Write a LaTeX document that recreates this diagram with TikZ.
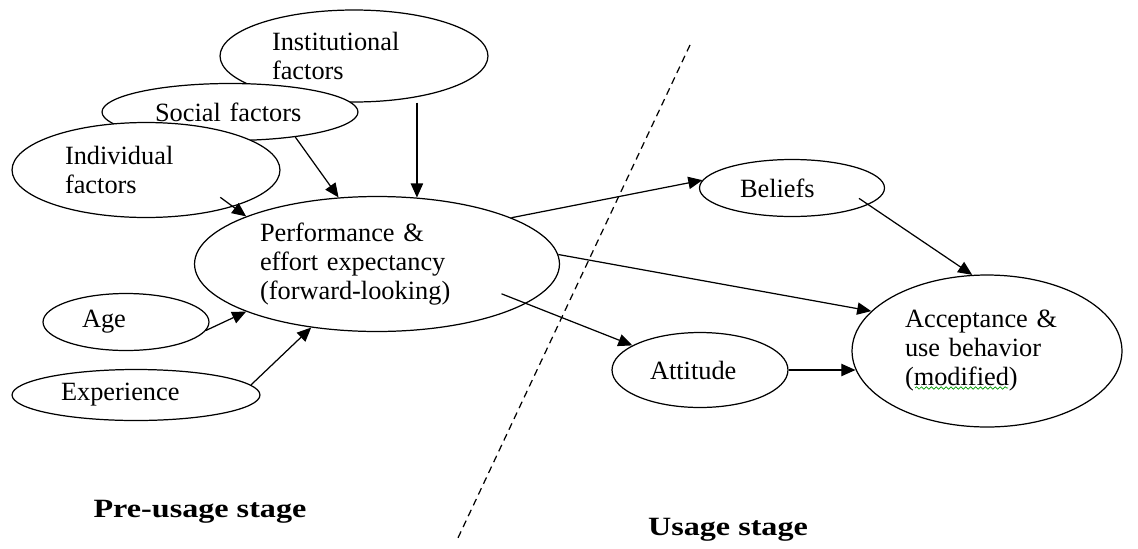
\documentclass[tikz,border=0pt]{standalone}
\usepackage{fontspec}
\setmainfont{Liberation Serif}
\newfontfamily\stagefont[FakeStretch=1.22]{Liberation Serif}
\usetikzlibrary{shapes.geometric,arrows.meta,decorations.pathmorphing}

\begin{document}
\begin{tikzpicture}[x=0.02cm, y=-0.02cm,
  factor/.style={ellipse, draw, fill=white, line width=0.7pt, inner sep=0pt,
    align=left, font=\fontsize{15}{16.5}\selectfont},
  link/.style={-{Triangle[length=8pt,width=7pt]}, line width=0.7pt},
  stagelabel/.style={font=\stagefont\bfseries\fontsize{15}{18}\selectfont,
    inner sep=0pt, anchor=base}]
  \useasboundingbox (0,0) rectangle (1138,548);

  % Define node positions
  \node[factor, minimum width=5.36cm, minimum height=1.84cm, text width=3.28cm] (inst) at (354,56) {Institutional\\factors};
  \node[factor, minimum width=5.12cm, minimum height=1.14cm, text width=3.0cm] (soc) at (230,112) {Social factors};
  \node[factor, minimum width=5.36cm, minimum height=1.9cm, text width=3.24cm] (ind) at (146,170) {Individual\\factors};
  \node[factor, minimum width=7.3cm, minimum height=2.7cm, text width=4.68cm] (perf) at (377,264) {Performance \&\\effort expectancy\\(forward-looking)};
  \node[factor, minimum width=3.32cm, minimum height=1.14cm, text width=1.76cm] (age) at (126,322) {Age};
  \node[factor, minimum width=4.96cm, minimum height=1.02cm, text width=3.0cm] (exp) at (136,395) {Experience};
  \node[factor, minimum width=3.7cm, minimum height=1.14cm, text width=2.08cm] (bel) at (792,188) {Beliefs};
  \node[factor, minimum width=3.52cm, minimum height=1.5cm, text width=2.0cm] (att) at (700,370) {Attitude};
  \node[factor, minimum width=5.4cm, minimum height=3.04cm, text width=3.28cm] (acc) at (987,351) {Acceptance \&\\use behavior\\(modified)};

  % spell check mark under modified
  \draw[green!60!black, line width=0.4pt, decorate,
    decoration={snake, amplitude=0.7pt, segment length=2.8pt}]
    ([shift={(-72,37)}]acc.center) -- ++(93,0);

  % Draw edges
  \draw[link] (perf.59 |- inst.south) -- (perf.59);
  \draw[link] (soc.-21) -- (perf.120);
  \draw[link] ([shift={(-20,-7)}]ind.-20) -- (perf.160);
  \draw[link] (age.-6) -- (perf.-160);
  \draw[link] (exp.5) -- (perf.-136);

  \draw[link] (perf.19) -- (bel.175);
  \draw[link] (perf.3) -- (acc.161);
  \draw[link] ([shift={(-24,-10)}]perf.-15) -- (att.160);

  \draw[link] ([shift={(-10,-6)}]bel.-12) -- (acc.101);
  \draw[link] (att.east) -- (att.east -| acc.-172);

  % Stage divider
  \coordinate (divtop) at (690,45);
  \coordinate (divbot) at (457,540);
  \draw[dash pattern=on 4pt off 2.8pt, line width=0.7pt] (divtop) -- (divbot);

  \node[stagelabel] (pre) at (200,517) {Pre-usage stage};
  \node[stagelabel] (usage) at (728,535) {Usage stage};
\end{tikzpicture}
\end{document}
